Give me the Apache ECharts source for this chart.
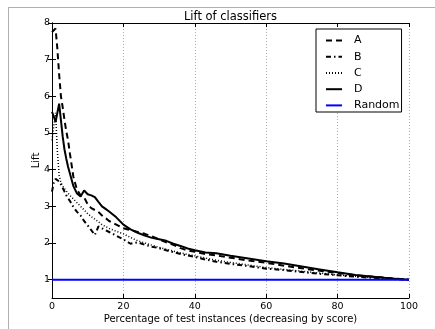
<!DOCTYPE html>
<html>
<head>
<meta charset="utf-8">
<script src="https://cdn.jsdelivr.net/npm/echarts@6/dist/echarts.min.js"></script>
<style>html,body{margin:0;padding:0;background:#fff;}#c{width:435px;height:329px;}</style>
</head>
<body>
<div id="c"></div>
<script>
var xs = [0,0.5,1,1.5,2,2.5,3,3.5,4,4.5,5,6,7,8,9,10,11,12,13,14,15,16,18,20,22,24,26,28,30,32,34,36,38,40,43,46,50,55,60,65,70,75,80,85,90,95,100];
var liftA = [7.75,7.8,7.85,7.3,6.6,6.0,5.7,5.35,5.05,4.8,4.45,3.8,3.45,3.3,3.25,3.05,2.95,2.9,2.85,2.75,2.68,2.6,2.5,2.4,2.35,2.3,2.25,2.18,2.1,2.02,1.95,1.86,1.8,1.76,1.7,1.66,1.6,1.52,1.46,1.38,1.31,1.24,1.18,1.12,1.08,1.04,1.0];
var liftB = [3.4,3.65,3.75,3.7,3.68,3.6,3.5,3.4,3.3,3.22,3.15,2.98,2.85,2.75,2.6,2.48,2.35,2.22,2.45,2.4,2.35,2.3,2.2,2.1,1.98,2.02,1.95,1.9,1.86,1.8,1.75,1.7,1.66,1.62,1.55,1.49,1.43,1.37,1.3,1.26,1.21,1.16,1.12,1.08,1.05,1.02,1.0];
var liftC = [4.8,5.2,5.55,4.5,3.85,3.65,3.55,3.48,3.42,3.36,3.3,3.2,3.1,3.0,2.9,2.8,2.72,2.65,2.58,2.5,2.45,2.4,2.32,2.25,2.15,2.06,2.0,1.94,1.88,1.83,1.78,1.73,1.69,1.65,1.59,1.53,1.47,1.4,1.33,1.28,1.23,1.18,1.13,1.09,1.06,1.03,1.0];
var liftD = [5.58,5.45,5.3,5.55,5.8,5.35,4.9,4.55,4.3,4.08,3.9,3.55,3.35,3.27,3.43,3.33,3.3,3.25,3.12,3.0,2.93,2.86,2.7,2.5,2.37,2.28,2.2,2.14,2.1,2.06,1.98,1.92,1.85,1.8,1.74,1.72,1.65,1.58,1.5,1.44,1.36,1.28,1.2,1.13,1.08,1.03,1.0];
var randomX = [0,100];
var randomY = [1,1];
var yTicks = [1,2,3,4,5,6,7,8];

function pairs(x, y){ return x.map(function(v,i){ return [v, y[i]]; }); }

var FONT = 'DejaVu Sans';
var chart = echarts.init(document.getElementById('c'));
var lineBase = function(name, data, color, width, dash){
  return {
    name: name, type: 'line', data: data, symbol: 'none', showSymbol: false,
    xAxisIndex: 0, yAxisIndex: 0, animation: false, silent: true,
    lineStyle: { color: color, width: width, type: dash, cap: 'butt' },
    itemStyle: { color: color }
  };
};
chart.setOption({
  animation: false,
  backgroundColor: '#fff',
  title: {
    text: 'Lift of classifiers', left: 230.5, top: 11, textAlign: 'center', padding: 0,
    textStyle: { fontFamily: FONT, fontSize: 11.5, fontWeight: 'normal', color: '#000' }
  },
  grid: { left: 52, right: 26, top: 23, bottom: 28, containLabel: false },
  legend: {
    orient: 'vertical', left: 316, top: 29,
    padding: [6, 2, 1, 9], itemWidth: 16, itemHeight: 14, itemGap: 5,
    backgroundColor: '#fff', borderColor: '#000', borderWidth: 1, borderRadius: 0,
    itemStyle: { opacity: 0 },
    textStyle: { fontFamily: FONT, fontSize: 11, color: '#000', padding: [0, 0, 0, 7] },
    data: ['A', 'B', 'C', 'D', 'Random']
  },
  xAxis: [{
    type: 'value', min: 0, max: 100, interval: 20,
    name: 'Percentage of test instances (decreasing by score)',
    nameLocation: 'middle', nameGap: 16, nameMoveOverlap: false,
    nameTextStyle: { fontFamily: FONT, fontSize: 10, color: '#000' },
    axisLine: { show: true, lineStyle: { color: '#000', width: 1 } },
    axisTick: { show: true, inside: true, length: 4, lineStyle: { color: '#000' } },
    axisLabel: { fontFamily: FONT, fontSize: 9.5, color: '#000', margin: 4 },
    splitLine: { show: true, lineStyle: { color: '#aaa', type: [1, 2], width: 1 } }
  }, {
    type: 'value', min: 0, max: 100, interval: 20, position: 'top',
    axisLine: { show: true, lineStyle: { color: '#000', width: 1 } },
    axisTick: { show: true, inside: true, length: 4, lineStyle: { color: '#000' } },
    axisLabel: { show: false }, splitLine: { show: false }
  }],
  yAxis: [{
    type: 'value', min: 0.5, max: 8,
    name: 'Lift', nameLocation: 'middle', nameGap: 11, nameRotate: 90, nameMoveOverlap: false,
    nameTextStyle: { fontFamily: FONT, fontSize: 10, color: '#000' },
    axisLine: { show: true, lineStyle: { color: '#000', width: 1 } },
    axisTick: { show: true, inside: true, length: 4, customValues: yTicks, lineStyle: { color: '#000' } },
    axisLabel: { fontFamily: FONT, fontSize: 9.5, color: '#000', margin: 2, customValues: yTicks },
    splitLine: { show: false }
  }, {
    type: 'value', min: 0.5, max: 8, position: 'right',
    axisLine: { show: true, lineStyle: { color: '#000', width: 1 } },
    axisTick: { show: true, inside: true, length: 4, customValues: yTicks, lineStyle: { color: '#000' } },
    axisLabel: { show: false }, splitLine: { show: false }
  }],
  graphic: [
    { type: 'line', shape: { x1: 8, y1: 7.5, x2: 435, y2: 7.5 }, style: { stroke: '#b0b0b0', lineWidth: 1 }, silent: true },
    { type: 'line', shape: { x1: 8.5, y1: 7, x2: 8.5, y2: 329 }, style: { stroke: '#b0b0b0', lineWidth: 1 }, silent: true }
  ],
  series: [
    lineBase('A', pairs(xs, liftA), '#000', 2, [6, 4]),
    lineBase('B', pairs(xs, liftB), '#000', 2, [5, 3, 1.5, 3]),
    lineBase('C', pairs(xs, liftC), '#000', 1.5, [1, 2]),
    lineBase('D', pairs(xs, liftD), '#000', 2, 'solid'),
    lineBase('Random', pairs(randomX, randomY), '#0000ff', 2, 'solid')
  ]
});
</script>
</body>
</html>
